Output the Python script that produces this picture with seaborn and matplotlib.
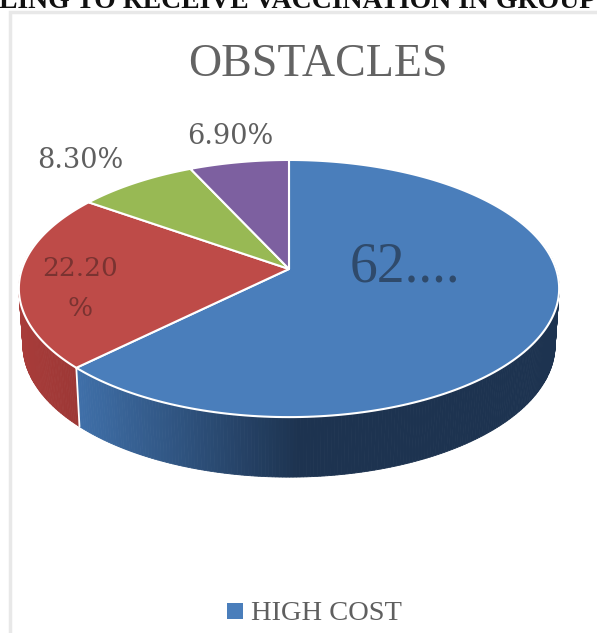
import numpy as np
import matplotlib
matplotlib.use("Agg")
import matplotlib.pyplot as plt
from matplotlib.colors import to_rgb
from matplotlib.patches import Polygon, Rectangle
import seaborn as sns

# Survey shares, clockwise from twelve o'clock
categories = ["HIGH COST", "SIDE EFFECTS", "AVAILABILITY", "OTHER"]
shares = [62.6, 22.2, 8.3, 6.9]
share_labels = ["62....", "22.20\n%", "8.30%", "6.90%"]
top_colors = ["#4a7ebb", "#be4b48", "#98b954", "#7d60a0"]
side_colors = [("#3f6fa8", "#1d3350"), ("#a83c3a", "#9c3735"), ("#7f9a45", "#6b833a"), ("#664e85", "#584372")]

W, H = 597, 633
sns.set_theme(style="white")
plt.rcParams["font.family"] = ["Liberation Serif", "DejaVu Serif"]

fig = plt.figure(figsize=(W / 100, H / 100), dpi=100, facecolor="white")
ax = fig.add_axes([0, 0, 1, 1])
ax.set_xlim(0, W)
ax.set_ylim(H, 0)
ax.axis("off")

# Perspective projection of the unit disc onto the page
CX, CY, AX_X, AX_Y, K, DEPTH = 289, 269, 267, 125.6, 0.152, 60
FOOT_SHRINK = 0.985


def project(theta):
    """theta is measured clockwise from the far side of the disc."""
    x, y = np.sin(theta), np.cos(theta)
    return CX + AX_X * x / (1 + K * y), CY - AX_Y * y / (1 + K * y)


def project_foot(theta):
    """Lower rim of the wall: a little narrower, deepest at the front."""
    x, y = project(theta)
    return CX + (x - CX) * FOOT_SHRINK, y + DEPTH * (0.93 - 0.07 * np.cos(theta))


def mix(c1, c2, t):
    a, b = np.array(to_rgb(c1)), np.array(to_rgb(c2))
    return tuple(a + (b - a) * min(max(t, 0), 1))


# Card outline behind the chart
ax.add_patch(Rectangle((10, 12), W + 40, H + 40, fc="#ffffff", ec="#e8e8e8", lw=2.5))

# Cumulative angle of each slice boundary
edges = np.concatenate([[0], np.cumsum(shares)]) / sum(shares) * 2 * np.pi

# Outer wall: short shaded strips, only where the rim faces the viewer
for start, stop, (c_a, c_b) in zip(edges[:-1], edges[1:], side_colors):
    th = np.linspace(start, stop, max(int((stop - start) * 90), 2))
    for t0, t1 in zip(th[:-1], th[1:]):
        if not (np.pi / 2 - 0.2 < (t0 + t1) / 2 < 3 * np.pi / 2 + 0.2):
            continue
        x0, y0 = project(t0)
        x1, y1 = project(t1)
        xb0, yb0 = project_foot(t0)
        xb1, yb1 = project_foot(t1)
        # shade runs from the slice's left end across the page
        if start == 0:
            f = (80 - x0) / (80 - 300)
        else:
            f = (x0 - 20) / 60
        ax.add_patch(Polygon([(x0, y0), (x1, y1), (xb1, yb1), (xb0, yb0)],
                             fc=mix(c_a, c_b, f), ec=mix(c_a, c_b, f), lw=0.6, zorder=2))

# Vertical seam between the blue and red walls
seam_x, seam_y = project(edges[1])
seam_xb, seam_yb = project_foot(edges[1])
ax.plot([seam_x, seam_xb], [seam_y, seam_yb], color="white", lw=1.3, zorder=3)

# Top face of every slice
for start, stop, color in zip(edges[:-1], edges[1:], top_colors):
    th = np.linspace(start, stop, 200)
    xs, ys = project(th)
    pts = np.column_stack([np.r_[CX, xs], np.r_[CY, ys]])
    ax.add_patch(Polygon(pts, closed=True, fc=color, ec="white", lw=1.5, joinstyle="round", zorder=4))

# Title, stray heading above the card, slice labels and legend
ax.text(318, 65, "OBSTACLES", ha="center", va="center", fontsize=33, color="#636363")
ax.text(298, 1, "LING TO RECEIVE VACCINATION IN GROUP", ha="center", va="center",
        fontsize=20, fontweight="bold", color="#111111", clip_on=True)

serif_wide = ["DejaVu Serif"]
ax.text(405, 267, share_labels[0], ha="center", va="center", fontsize=40, color="#2f4a6b", zorder=6)
ax.text(80, 288, share_labels[1], ha="center", va="center", fontsize=19, color="#7a3331",
        family=serif_wide, linespacing=1.75, zorder=6)
ax.text(80, 161, share_labels[2], ha="center", va="center", fontsize=19.5, color="#5f5f5f",
        family=serif_wide, zorder=6)
ax.text(230, 137, share_labels[3], ha="center", va="center", fontsize=19.5, color="#5f5f5f",
        family=serif_wide, zorder=6)

ax.add_patch(Rectangle((227, 603), 16, 16, fc=top_colors[0], ec="none"))
ax.text(251, 613, categories[0], ha="left", va="center", fontsize=20.5, color="#5f5f5f")

fig.savefig("out.png", dpi=100)
